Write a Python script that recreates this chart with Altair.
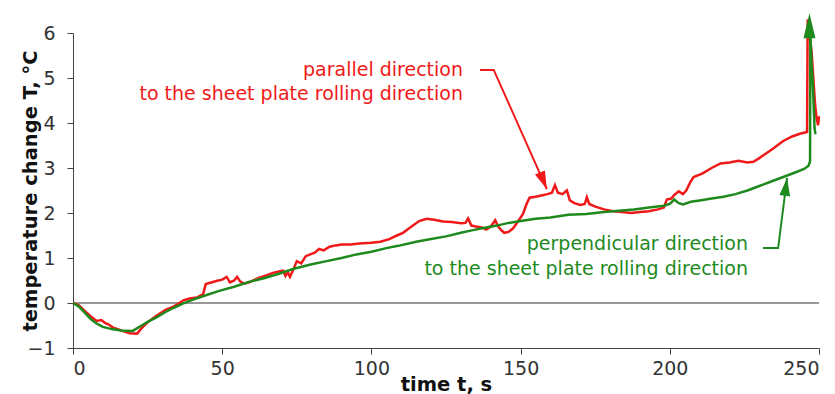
import altair as alt
import pandas as pd

# ---- data ----
red_t = [0, 2, 4, 6, 8, 9.5, 10.7, 12, 13.5, 15, 17, 19, 21.5, 23, 25, 27, 29, 31, 33, 35, 37, 39,
         41.5, 43.6, 44.5, 46, 48, 50, 51.5, 52.6, 54, 55, 56, 57.3, 59, 62, 65, 67, 69, 70.4, 71.2,
         72, 72.7, 73.7, 75, 76.5, 78, 79.5, 81, 82.5, 84, 86, 88, 90, 93, 96, 100, 103, 106, 108.5,
         110.6, 113, 116, 118.5, 121, 124, 127, 130, 131.5, 132.4, 133.5, 135, 137, 138.5, 140,
         141.5, 142.5, 143.5, 144.5, 146, 147.5, 149, 150.8, 152, 153, 155, 157, 159, 160.5, 161.5,
         162.5, 164, 165.5, 166.5, 168, 170, 171.5, 172.2, 173, 175, 178, 181, 184, 187, 190, 193,
         196, 198, 199, 200.5, 201.5, 203, 204.4, 205.5, 207, 208, 211, 214, 217, 220, 223, 226,
         228, 230, 232.6, 235, 238, 241, 243.6, 246.0, 246.2, 247.5, 248.7, 249.2, 249.7, 250]
red_T = [0, -0.05, -0.18, -0.3, -0.4, -0.38, -0.44, -0.48, -0.55, -0.58, -0.63, -0.67, -0.68, -0.56,
         -0.43, -0.33, -0.24, -0.15, -0.1, -0.03, 0.06, 0.1, 0.12, 0.2, 0.42, 0.45, 0.49, 0.52, 0.58,
         0.46, 0.5, 0.58, 0.48, 0.43, 0.46, 0.55, 0.62, 0.67, 0.7, 0.72, 0.6, 0.68, 0.58, 0.72, 0.93,
         0.88, 1.04, 1.08, 1.12, 1.2, 1.17, 1.25, 1.28, 1.3, 1.3, 1.32, 1.34, 1.36, 1.42, 1.5, 1.56,
         1.68, 1.82, 1.87, 1.85, 1.81, 1.8, 1.77, 1.78, 1.88, 1.72, 1.7, 1.68, 1.63, 1.7, 1.84, 1.7,
         1.62, 1.56, 1.58, 1.66, 1.8, 1.98, 2.2, 2.34, 2.36, 2.39, 2.42, 2.45, 2.62, 2.45, 2.42, 2.5,
         2.28, 2.22, 2.18, 2.2, 2.35, 2.2, 2.14, 2.08, 2.04, 2.02, 2.0, 2.02, 2.04, 2.08, 2.12, 2.3,
         2.32, 2.4, 2.48, 2.42, 2.5, 2.7, 2.8, 2.88, 3.0, 3.1, 3.12, 3.16, 3.12, 3.14, 3.22, 3.34,
         3.45, 3.6, 3.7, 3.76, 3.8, 6.3, 5.6, 4.4, 4.1, 3.95, 4.15]

green_t = [0, 2, 4, 6, 8, 10, 13, 16, 20, 23, 25, 28, 31, 34, 37, 40, 44, 49, 54, 59, 64, 69, 74,
           80, 85, 90, 95, 100, 105, 109, 115, 120, 125, 130, 134, 138, 142, 146, 150, 155, 160,
           166, 172, 178, 183, 188, 193, 198, 200, 201.5, 203, 204.5, 207, 210, 214, 218, 222, 226,
           230, 234, 238, 242, 245, 246.5, 247.0, 247.1, 247.5, 247.9, 248.2, 248.5, 248.8]
green_T = [0, -0.08, -0.22, -0.36, -0.46, -0.53, -0.58, -0.61, -0.62, -0.5, -0.42, -0.32, -0.2,
           -0.1, -0.01, 0.07, 0.16, 0.27, 0.36, 0.47, 0.55, 0.65, 0.76, 0.86, 0.93, 1.0, 1.08, 1.14,
           1.22, 1.27, 1.36, 1.42, 1.48, 1.56, 1.62, 1.67, 1.72, 1.78, 1.82, 1.87, 1.9, 1.96, 1.98,
           2.02, 2.05, 2.08, 2.12, 2.16, 2.2, 2.3, 2.22, 2.19, 2.25, 2.28, 2.32, 2.36, 2.42, 2.5, 2.6,
           2.7, 2.8, 2.9, 2.98, 3.05, 3.15, 6.0, 5.3, 4.9, 4.4, 3.9, 3.75]

x_ticks = [0, 50, 100, 150, 200, 250]
y_ticks = [-1, 0, 1, 2, 3, 4, 5, 6]

# annotations (anchored in data units)
red_label = ["parallel direction", "to the sheet plate rolling direction"]
red_label_t = [130.7, 130.7]
red_label_T = [5.18, 4.64]
red_leader_t = [136.4, 141.0, 158.8]
red_leader_T = [5.18, 5.18, 2.53]

green_label = ["perpendicular direction", "to the sheet plate rolling direction"]
green_label_t = [226.2, 226.2]
green_label_T = [1.31, 0.76]
green_leader_t = [231.2, 236.3, 239.3]
green_leader_T = [1.22, 1.22, 2.78]

RED = "#f01919"
GREEN = "#1e8a1e"
FONT = "DejaVu Sans"

df_red = pd.DataFrame({"t": red_t, "T": red_T, "i": range(len(red_t))})
df_green = pd.DataFrame({"t": green_t, "T": green_T, "i": range(len(green_t))})

x = alt.X("t:Q",
          scale=alt.Scale(domain=[0, 250], nice=False, zero=False),
          axis=alt.Axis(values=x_ticks, title="time t, s", tickSize=6, labelPadding=5,
                        titleX=373, titleY=42, titleAlign="center", titleBaseline="alphabetic"))
y = alt.Y("T:Q",
          scale=alt.Scale(domain=[-1, 6], nice=False, zero=False),
          axis=alt.Axis(values=y_ticks, title="temperature change T, °C", tickSize=6,
                        labelPadding=12, titleX=-43, titleY=157.5, titleAlign="center",
                        titleBaseline="middle", titleAngle=270))

zero = alt.Chart(pd.DataFrame({"T": [0]})).mark_rule(color="#333333", strokeWidth=1).encode(y=y)

green_line = alt.Chart(df_green).mark_line(color=GREEN, strokeWidth=2.5, clip=False).encode(
    x=x, y=y, order="i:Q")
red_line = alt.Chart(df_red).mark_line(color=RED, strokeWidth=2.5, clip=False).encode(
    x=x, y=y, order="i:Q")

def leader(ts, Ts, color):
    d = pd.DataFrame({"t": ts, "T": Ts, "i": range(len(ts))})
    return alt.Chart(d).mark_line(color=color, strokeWidth=2, clip=False).encode(x=x, y=y, order="i:Q")

def labels(ts, Ts, texts, color):
    d = pd.DataFrame({"t": ts, "T": Ts, "label": texts})
    return alt.Chart(d).mark_text(align="right", baseline="middle", font=FONT, fontSize=19,
                                  color=color).encode(x=x, y=y, text="label:N")

ARROW = "M0,0L0.3,1L-0.3,1Z"
ARROW_TOP = "M0,0L0.24,1L-0.24,1Z"

def head(t, T, ang, color, shape, size):
    d = pd.DataFrame({"t": [t], "T": [T], "a": [ang]})
    return alt.Chart(d).mark_point(shape=shape, filled=True, size=size, color=color, opacity=1,
                                   strokeWidth=0, clip=False).encode(
        x=x, y=y, angle=alt.Angle("a:Q", scale=None))

chart = alt.layer(
    zero,
    red_line,
    green_line,
    leader(red_leader_t, red_leader_T, RED),
    head(red_leader_t[-1], red_leader_T[-1], 157.4, RED, ARROW, 1296),
    leader(green_leader_t, green_leader_T, GREEN),
    head(green_leader_t[-1], green_leader_T[-1], 7.3, GREEN, ARROW, 1296),
    head(246.8, 6.44, 0, GREEN, ARROW_TOP, 2500),
    labels(red_label_t, red_label_T, red_label, RED),
    labels(green_label_t, green_label_T, green_label, GREEN),
).properties(
    width=746, height=315,
    autosize=alt.AutoSizeParams(type="none"),
    padding={"left": 73, "top": 33, "right": 16, "bottom": 46},
).configure_axis(
    grid=False,
    labelFont=FONT, labelFontSize=19, labelColor="#333333",
    titleFont=FONT, titleFontSize=19.5, titleFontWeight="bold", titleColor="#111111",
    domainColor="#444444", tickColor="#444444", domainWidth=1, tickWidth=1,
).configure_view(stroke=None)

chart.save("out.html", embed_options={"renderer": "svg", "actions": False})
